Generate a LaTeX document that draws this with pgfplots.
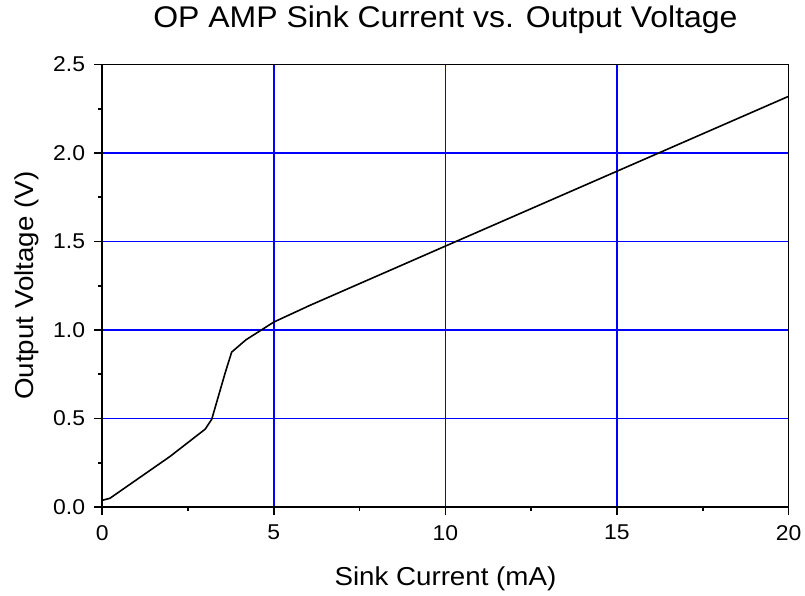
\documentclass[border=0pt]{standalone}
\usepackage{fontspec}
\setmainfont[FakeStretch=1.07]{Liberation Sans}
\usepackage{pgfplots}
\pgfplotsset{compat=1.18}
\definecolor{gridblue}{RGB}{0,0,255}
\begin{document}
\begin{tikzpicture}
\begin{axis}[
  name=a,
  scale only axis,
  width=686.2bp, height=442.5bp,
  xmin=0, xmax=20, ymin=0, ymax=2.5,
  xtick={0,5,10,15,20},
  xticklabels={0,5,10,15,20},
  ytick={0,0.5,1,1.5,2,2.5},
  yticklabels={0.0,0.5,1.0,1.5,2.0,2.5},
  minor x tick num=1, minor y tick num=1,
  xtick pos=left, ytick pos=left,
  tick align=outside,
  major tick length=8bp, minor tick length=4bp,
  every tick/.style={black, line width=1.6bp},
  axis line style={black, line width=1.8bp},
  grid=major,
  major grid style={gridblue, line width=1.8bp},
  minor grid style={draw=none},
  ticklabel style={font=\fontsize{21.5}{25}\selectfont},
  xticklabel style={anchor=north, inner sep=0pt, yshift=-10bp},
  yticklabel style={anchor=east, inner sep=0pt, xshift=-9bp},
  title={OP AMP Sink Current vs. Output Voltage},
  title style={font=\fontsize{30}{36}\selectfont, at={(axis description cs:0.5,1.0712)}, anchor=base, inner sep=0pt},
  xlabel={Sink Current (mA)},
  xlabel style={font=\fontsize{26}{30}\selectfont, at={(axis description cs:0.5,-0.1763)}, anchor=base, inner sep=0pt},
  ylabel={Output Voltage (V)},
  ylabel style={font=\fontsize{26}{30}\selectfont, at={(axis description cs:-0.1005,0.5)}, anchor=base, inner sep=0pt},
]
\addplot[black, line width=1.6bp, mark=none] coordinates {
  (0,0.038) (0.22,0.049) (1.97,0.285) (3.0,0.44) (3.19,0.496)
  (3.58,0.757) (3.77,0.875) (4.19,0.945) (5.0,1.045) (6.06,1.14)
  (10,1.474) (20,2.32)
};
\end{axis}
\pgfresetboundingbox
\path ([xshift=-102.3bp,yshift=-89bp]a.south west) rectangle ([xshift=16.5bp,yshift=64.5bp]a.north east);
\end{tikzpicture}
\end{document}
